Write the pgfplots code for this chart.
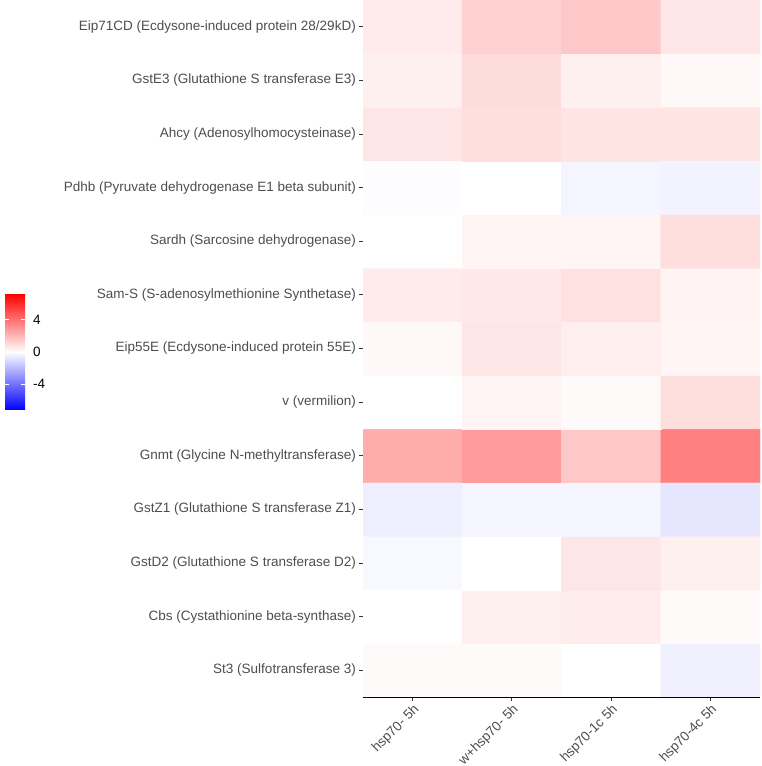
\documentclass[border=0pt]{standalone}
\usepackage{pgfplots}
\pgfplotsset{compat=1.18}
\usepackage{fontspec}
\setmainfont{Liberation Sans}
\definecolor{labgrey}{RGB}{77,77,77}
\definecolor{tickgrey}{RGB}{51,51,51}
\begin{document}
\fontsize{13.5}{16}\selectfont%
\begin{tikzpicture}
\begin{axis}[
  scale only axis, width=397pt, height=697pt,
  xmin=-0.5, xmax=3.5, ymin=-0.5, ymax=12.5,
  axis x line*=bottom, axis y line*=left,
  axis line style={black, line width=0.8pt, -},
  xtick={0,1,2,3},
  xticklabels={hsp70- 5h, w+hsp70- 5h, hsp70-1c 5h, hsp70-4c 5h},
  ytick={0,...,12},
  yticklabels={St3 (Sulfotransferase 3),
    Cbs (Cystathionine beta-synthase),
    GstD2 (Glutathione S transferase D2),
    GstZ1 (Glutathione S transferase Z1),
    Gnmt (Glycine N-methyltransferase),
    v (vermilion),
    Eip55E (Ecdysone-induced protein 55E),
    Sam-S (S-adenosylmethionine Synthetase),
    Sardh (Sarcosine dehydrogenase),
    Pdhb (Pyruvate dehydrogenase E1 beta subunit),
    Ahcy (Adenosylhomocysteinase),
    GstE3 (Glutathione S transferase E3),
    Eip71CD (Ecdysone-induced protein 28/29kD)},
  tick align=outside, major tick length=4pt,
  tick style={tickgrey, line width=0.8pt},
  ticklabel style={text=labgrey, font=\fontsize{13.5}{16}\selectfont},
  xticklabel style={rotate=45, anchor=north east, inner sep=1.5pt},
  yticklabel style={inner sep=3pt},
  colormap={bwr}{rgb255=(0,0,255) rgb255=(255,255,255) rgb255=(255,0,0)},
  point meta min=-7.2, point meta max=7.2,
  colorbar,
  colorbar/width=20pt,
  colorbar style={
    at={(parent axis.south west)},
    anchor=north west,
    xshift=-366.5pt, yshift=403pt,
    scale only axis, height=116pt,
    ytick={-4,0,4}, yticklabels={-4,0,4},
    yticklabel pos=right, ytick pos=both,
    tick align=inside, major tick length=4pt,
    tick style={white, line width=0.6pt},
    axis line style={draw=none},
    yticklabel style={text=black, font=\fontsize{13.5}{16}\selectfont, inner sep=0pt, xshift=8pt},
  },
]
\addplot[matrix plot*, mesh/cols=4, point meta=explicit] table[x=x, y=y, meta=c] {
x y c
0 0 0.14
1 0 0.14
2 0 0.0
3 0 -0.42
0 1 0.0
1 1 0.42
2 1 0.53
3 1 0.14
0 2 -0.2
1 2 0.0
2 2 0.7
3 2 0.42
0 3 -0.47
1 3 -0.28
2 3 -0.28
3 3 -0.7
0 4 2.35
1 4 2.82
2 4 1.55
3 4 3.6
0 5 0.0
1 5 0.28
2 5 0.14
3 5 0.93
0 6 0.2
1 6 0.7
2 6 0.48
3 6 0.28
0 7 0.56
1 7 0.65
2 7 0.85
3 7 0.34
0 8 0.0
1 8 0.28
2 8 0.28
3 8 0.93
0 9 -0.05
1 9 0.0
2 9 -0.28
3 9 -0.34
0 10 0.7
1 10 0.93
2 10 0.76
3 10 0.76
0 11 0.42
1 11 0.98
2 11 0.42
3 11 0.2
0 12 0.56
1 12 1.3
2 12 1.55
3 12 0.7
};
\coordinate (bbl) at (axis description cs:-0.9144,-0.0990);
\coordinate (btr) at (axis description cs:1.0050,1.0);
\end{axis}
\pgfresetboundingbox
\path (bbl) rectangle (btr);
\end{tikzpicture}%
\end{document}
